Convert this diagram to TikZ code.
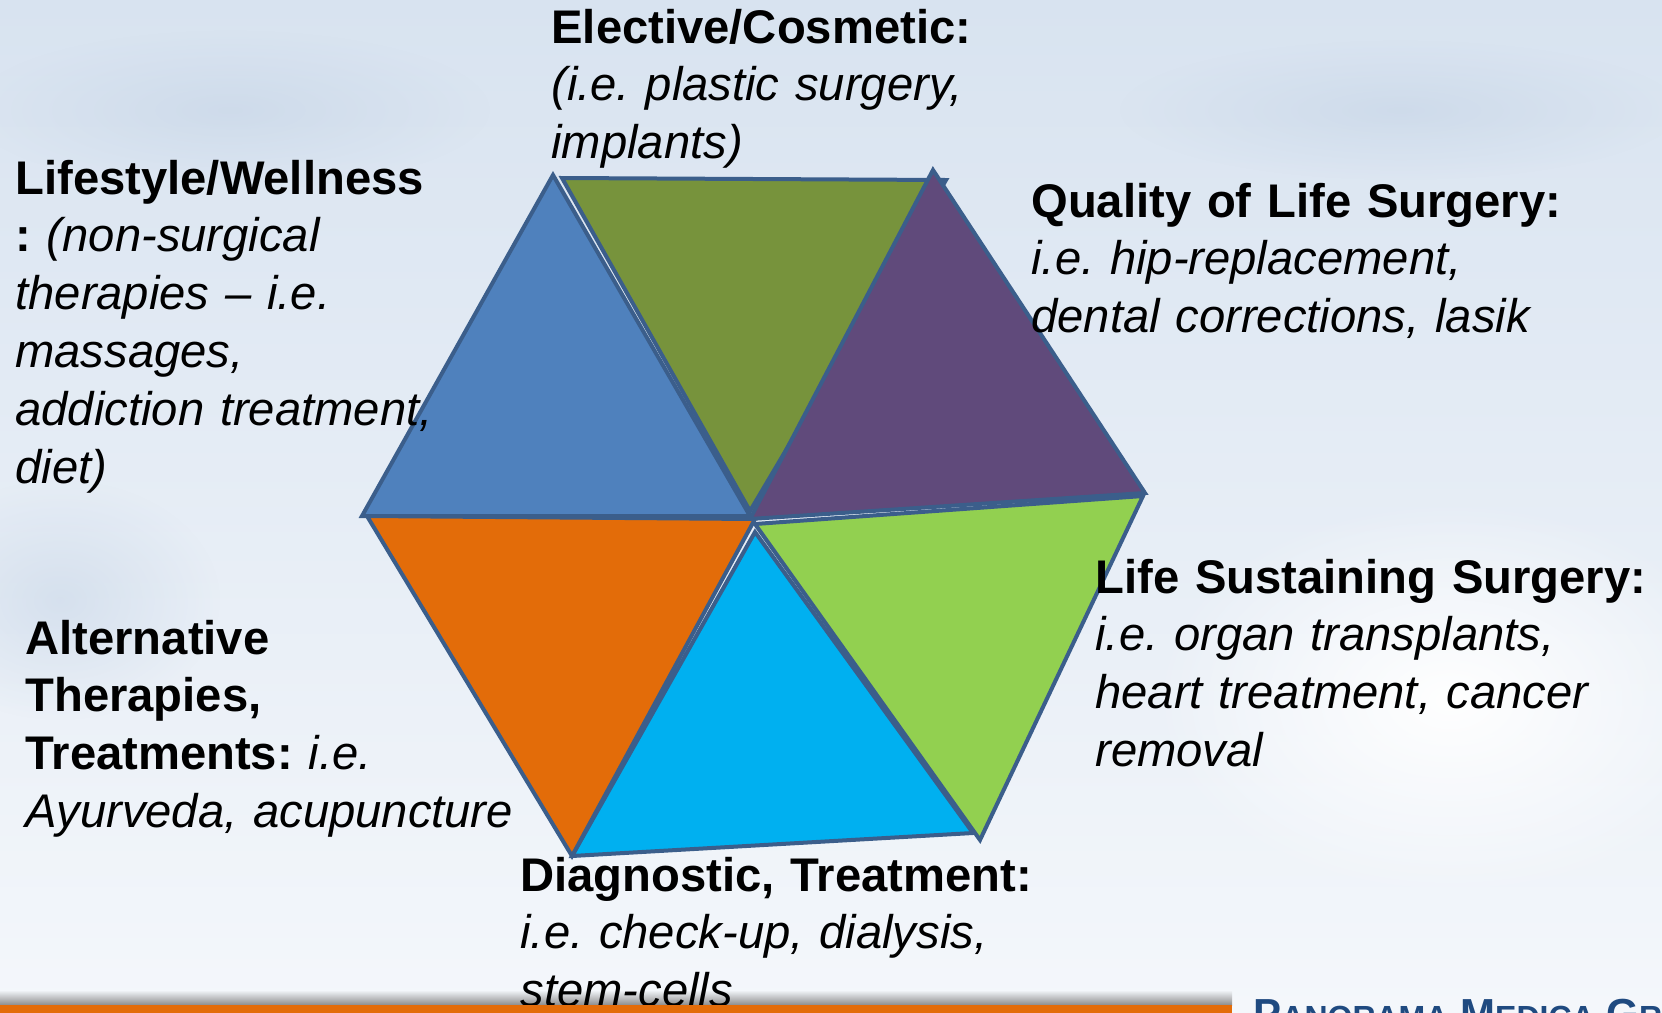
\documentclass[tikz,border=0pt]{standalone}
\usepackage{fontspec}
\setmainfont{Liberation Sans}
\usetikzlibrary{positioning,fadings}

\definecolor{skytop}{HTML}{D8E3F0}
\definecolor{skybot}{HTML}{F4F7FB}
\definecolor{cloud}{HTML}{C9D7E8}
\definecolor{hexline}{HTML}{3B5E8B}
\definecolor{hexblue}{HTML}{4F81BD}
\definecolor{hexolive}{HTML}{77933C}
\definecolor{hexpurple}{HTML}{604A7B}
\definecolor{hexlime}{HTML}{92D050}
\definecolor{hexcyan}{HTML}{00B0F0}
\definecolor{hexorange}{HTML}{E36C09}
\definecolor{footblue}{HTML}{1F4A80}

\tikzfading[name=cloudfade, inner color=transparent!0, outer color=transparent!100]

\newcommand{\blurbsize}{\fontsize{23.6pt}{28.9pt}\selectfont\frenchspacing}
\newcommand{\fakesc}[2]{{\fontsize{21pt}{24pt}\selectfont #1}{\fontsize{16pt}{20pt}\selectfont #2}}

\begin{document}
\begin{tikzpicture}[x=0.5pt,y=-0.5pt,
		wedge/.style={draw=hexline, line width=2pt, line join=miter},
		blurb/.style={anchor=base west,
			inner sep=0pt,
			text width=300pt,
			align=left,
			font=\blurbsize,
		},
		]

		\useasboundingbox (0,0) rectangle (1662,1013);
		\clip (0,0) rectangle (1662,1013);

		% sky
		\shade[top color=skytop, bottom color=skybot] (0,0) rectangle (1662,1013);
		\fill[cloud, path fading=cloudfade, opacity=0.7] (230,110) ellipse (260 and 80);
		\fill[cloud, path fading=cloudfade, opacity=0.7] (1400,110) ellipse (280 and 70);
		\fill[cloud, path fading=cloudfade, opacity=0.6] (60,600) ellipse (160 and 120);
		\fill[white, path fading=cloudfade] (1450,700) ellipse (300 and 200);

		% hexagon
		\filldraw[wedge, fill=hexblue] (553,175) -- (362,516) -- (750,516) -- cycle;
		\filldraw[wedge, fill=hexolive] (562,178) -- (946,180) -- (750,511) -- cycle;
		\filldraw[wedge, fill=hexpurple] (933,170) -- (1145,493) -- (750,519) -- cycle;
		\filldraw[wedge, fill=hexlime] (755,524) -- (1143,496) -- (980,840) -- cycle;
		\filldraw[wedge, fill=hexcyan] (755,532) -- (973,833) -- (572,856) -- cycle;
		\filldraw[wedge, fill=hexorange] (367,516) -- (755,519) -- (572,856) -- cycle;

		% shadow of the footer bar
		\shade[top color=skybot, bottom color=black!45] (0,990) rectangle (1232,1005);

		% labels
		\node[blurb] (elective) at (551,43) {\textbf{Elective/Cosmetic:}\\\textit{(i.e. plastic surgery,}\\\textit{implants)}};
		\node[blurb] (lifestyle) at (15,194) {\textbf{Lifestyle/Wellness}\\\textbf{:} \textit{(non-surgical}\\\textit{therapies -- i.e.}\\\textit{massages,}\\\textit{addiction treatment,}\\\textit{diet)}};
		\node[blurb] (quality) at (1031,217) {\textbf{Quality of Life Surgery:}\\\textit{i.e. hip-replacement,}\\\textit{dental corrections, lasik}};
		\node[blurb] (sustaining) at (1095,593) {\textbf{Life Sustaining Surgery:}\\\textit{i.e. organ transplants,}\\\textit{heart treatment, cancer}\\\textit{removal}};
		\node[blurb] (alternative) at (25,654) {\textbf{Alternative}\\\textbf{Therapies,}\\\textbf{Treatments:} \textit{i.e.}\\\textit{Ayurveda, acupuncture}};
		\node[blurb] (diagnostic) at (520,891) {\textbf{Diagnostic, Treatment:}\\\textit{i.e. check-up, dialysis,}\\\textit{stem-cells}};

		% footer
		\fill[hexorange] (0,1005) rectangle (1232,1013);
		\node[anchor=base west, inner sep=0pt, text=footblue, font=\fontsize{21pt}{24pt}\selectfont\bfseries] (brand) at (1253,1028) {\fakesc{P}{ANORAMA} \fakesc{M}{EDICA} \fakesc{G}{ROUP}};

	\end{tikzpicture}
\end{document}
